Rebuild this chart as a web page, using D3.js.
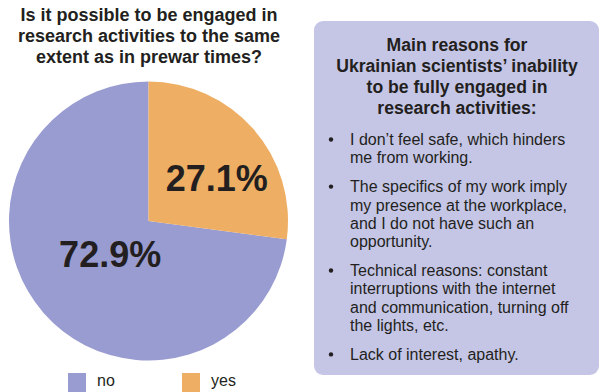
<!DOCTYPE html>
<html><head><meta charset="utf-8">
<script src="https://cdn.jsdelivr.net/npm/d3@7/dist/d3.min.js"></script>
<style>
html,body{margin:0;padding:0;background:#fff;}
svg{display:block;font-family:"Liberation Sans",Arial,Helvetica,sans-serif;}
</style></head>
<body>
<svg id="chart" width="600" height="392"></svg>
<script>
// ---- data ----
const categories = ["no", "yes"];
const values = [72.9, 27.1];
const titleLines = ["Is it possible to be engaged in", "research activities to the same", "extent as in prewar times?"];
const boxTitleLines = ["Main reasons for", "Ukrainian scientists\u2019 inability", "to be fully engaged in", "research activities:"];
const reasons = [
  ["I don\u2019t feel safe, which hinders", "me from working."],
  ["The specifics of my work imply", "my presence at the workplace,", "and I do not have such an", "opportunity."],
  ["Technical reasons: constant", "interruptions with the internet", "and communication, turning off", "the lights, etc."],
  ["Lack of interest, apathy."]
];

// ---- styles ----
const colors = {no: "#999cd0", yes: "#eeae63"};
const textColor = "#231f20";
const svg = d3.select("#chart");

// title
svg.append("text")
  .attr("x", 149).attr("y", 21)
  .attr("text-anchor", "middle")
  .attr("font-size", 18).attr("font-weight", "bold").attr("fill", textColor)
  .selectAll("tspan").data(titleLines).join("tspan")
  .attr("x", 149).attr("dy", (d, i) => i === 0 ? 0 : 21)
  .text(d => d);

// pie
const cx = 148.5, cy = 221, R = 139.5;
const data = categories.map((c, i) => ({cat: c, value: values[i]}));
const yesFrac = values[1] / d3.sum(values);
const pie = d3.pie().sort(null).value(d => d.value)
  .startAngle(yesFrac * 2 * Math.PI).endAngle(yesFrac * 2 * Math.PI + 2 * Math.PI);
const arcs = pie(data);
const arc = d3.arc().innerRadius(0).outerRadius(R);
const g = svg.append("g").attr("transform", `translate(${cx},${cy})`);
g.selectAll("path").data(arcs).join("path")
  .attr("d", arc)
  .attr("fill", d => colors[d.data.cat]);

const labelR = {no: 51, yes: 80};
const labelNudge = {no: [0, 0], yes: [8, 10]};
g.selectAll("text.lbl").data(arcs).join("text")
  .attr("class", "lbl")
  .attr("transform", d => {
    const c = d3.arc().innerRadius(labelR[d.data.cat]).outerRadius(labelR[d.data.cat]).centroid(d);
    const n = labelNudge[d.data.cat];
    return `translate(${c[0] + n[0]},${c[1] + n[1]})`;
  })
  .attr("text-anchor", "middle").attr("dominant-baseline", "central")
  .attr("font-size", 36).attr("font-weight", "bold").attr("fill", textColor)
  .text(d => d3.format(".1f")(d.data.value) + "%");

// legend
const legendX = d3.scaleOrdinal().domain(categories).range([68, 182]);
const lg = svg.append("g");
lg.selectAll("rect").data(categories).join("rect")
  .attr("x", d => legendX(d)).attr("y", 373).attr("width", 18).attr("height", 19)
  .attr("fill", d => colors[d]);
lg.selectAll("text").data(categories).join("text")
  .attr("x", d => legendX(d) + 29).attr("y", 386)
  .attr("font-size", 16).attr("fill", textColor)
  .text(d => d);

// reasons box
svg.append("rect")
  .attr("x", 314).attr("y", 21).attr("width", 285).attr("height", 354)
  .attr("rx", 9).attr("ry", 9)
  .attr("fill", "#c5c6e6");

svg.append("text")
  .attr("x", 457).attr("y", 51)
  .attr("text-anchor", "middle")
  .attr("font-size", 17.6).attr("font-weight", "bold").attr("fill", textColor)
  .selectAll("tspan").data(boxTitleLines).join("tspan")
  .attr("x", 457).attr("dy", (d, i) => i === 0 ? 0 : 21)
  .text(d => d);

const lineH = 18.4, gapH = 10.3;
let y = 145;
reasons.forEach(lines => {
  svg.append("circle").attr("cx", 331).attr("cy", y - 5.5).attr("r", 2.2).attr("fill", textColor);
  const t = svg.append("text").attr("x", 350).attr("y", y)
    .attr("font-size", 16).attr("fill", textColor);
  lines.forEach((l, i) => {
    t.append("tspan").attr("x", 350).attr("dy", i === 0 ? 0 : lineH).text(l);
  });
  y += lines.length * lineH + gapH;
});
</script>
</body></html>
